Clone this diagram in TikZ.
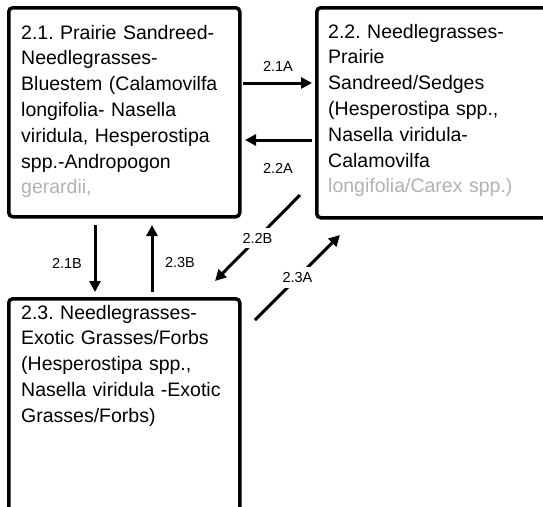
\documentclass[tikz,border=0pt]{standalone}
\usepackage{fontspec}
\setmainfont{Liberation Sans}
\usetikzlibrary{arrows.meta}
\frenchspacing
\begin{document}
\begin{tikzpicture}[x=1pt,y=-1pt,
  box/.style={draw, line width=3.5pt, rounded corners=4pt, fill=white, inner sep=0pt, anchor=north west},
  boxtext/.style={anchor=base west, inner sep=0pt, align=left, text width=225pt, font=\frenchspacing\fontsize{19.5}{25.8}\selectfont},
  arr/.style={line width=3pt, -{Triangle[length=11pt,width=11pt]}},
  lab/.style={font=\fontsize{14.5}{16}\selectfont, inner sep=1.5pt},
  midlab/.style={lab, fill=white, inner xsep=2pt, inner ysep=5pt},
  fadeline/.style={black!30}]
\useasboundingbox (0,0) rectangle (543,506);
\clip (0,0) rectangle (543,506);
% boxes
\node[box, minimum width=231pt, minimum height=209pt] (b1) at (7,6) {};
\node[box, minimum width=250pt, minimum height=210pt] (b2) at (315,6) {};
\node[box, minimum width=231pt, minimum height=240pt] (b3) at (7,297) {};
% texts
\node[boxtext] (t1) at (21,39) {2.1. Prairie Sandreed-\\Needlegrasses-\\Bluestem (Calamovilfa\\longifolia- Nasella\\viridula, Hesperostipa\\spp.-Andropogon\\\textcolor{black!30}{gerardii,}};
\node[boxtext] (t2) at (328,38) {2.2. Needlegrasses-\\Prairie\\Sandreed/Sedges\\(Hesperostipa spp.,\\Nasella viridula-\\Calamovilfa\\\textcolor{black!30}{longifolia/Carex spp.)}};
\node[boxtext] (t3) at (21,319) {2.3. Needlegrasses-\\Exotic Grasses/Forbs\\(Hesperostipa spp.,\\Nasella viridula -Exotic\\Grasses/Forbs)};
% connector end points
\coordinate (a1s) at (243,83);  \coordinate (a1e) at (312,83);
\coordinate (a2s) at (312,140); \coordinate (a2e) at (245,140);
\coordinate (b1s) at (95,225);  \coordinate (b1e) at (95,292);
\coordinate (b3s) at (152,292); \coordinate (b3e) at (152,225);
\coordinate (c2s) at (300,195); \coordinate (c2e) at (215,281);
\coordinate (c3s) at (255,320); \coordinate (c3e) at (340,235);
% connectors
\draw[arr] (a1s) -- (a1e);
\draw[arr] (a2s) -- (a2e);
\draw[arr] (b1s) -- (b1e);
\draw[arr] (b3s) -- (b3e);
\draw[arr] (c2s) -- node[midlab, pos=0.5] (l22b) {2.2B} (c2e);
\draw[arr] (c3s) -- node[midlab, pos=0.5] (l23a) {2.3A} (c3e);
% labels
\node[lab] (l21a) at (278,66) {2.1A};
\node[lab] (l22a) at (278,168) {2.2A};
\node[lab] (l21b) at (67,263) {2.1B};
\node[lab] (l23b) at (180,263) {2.3B};
\end{tikzpicture}
\end{document}
